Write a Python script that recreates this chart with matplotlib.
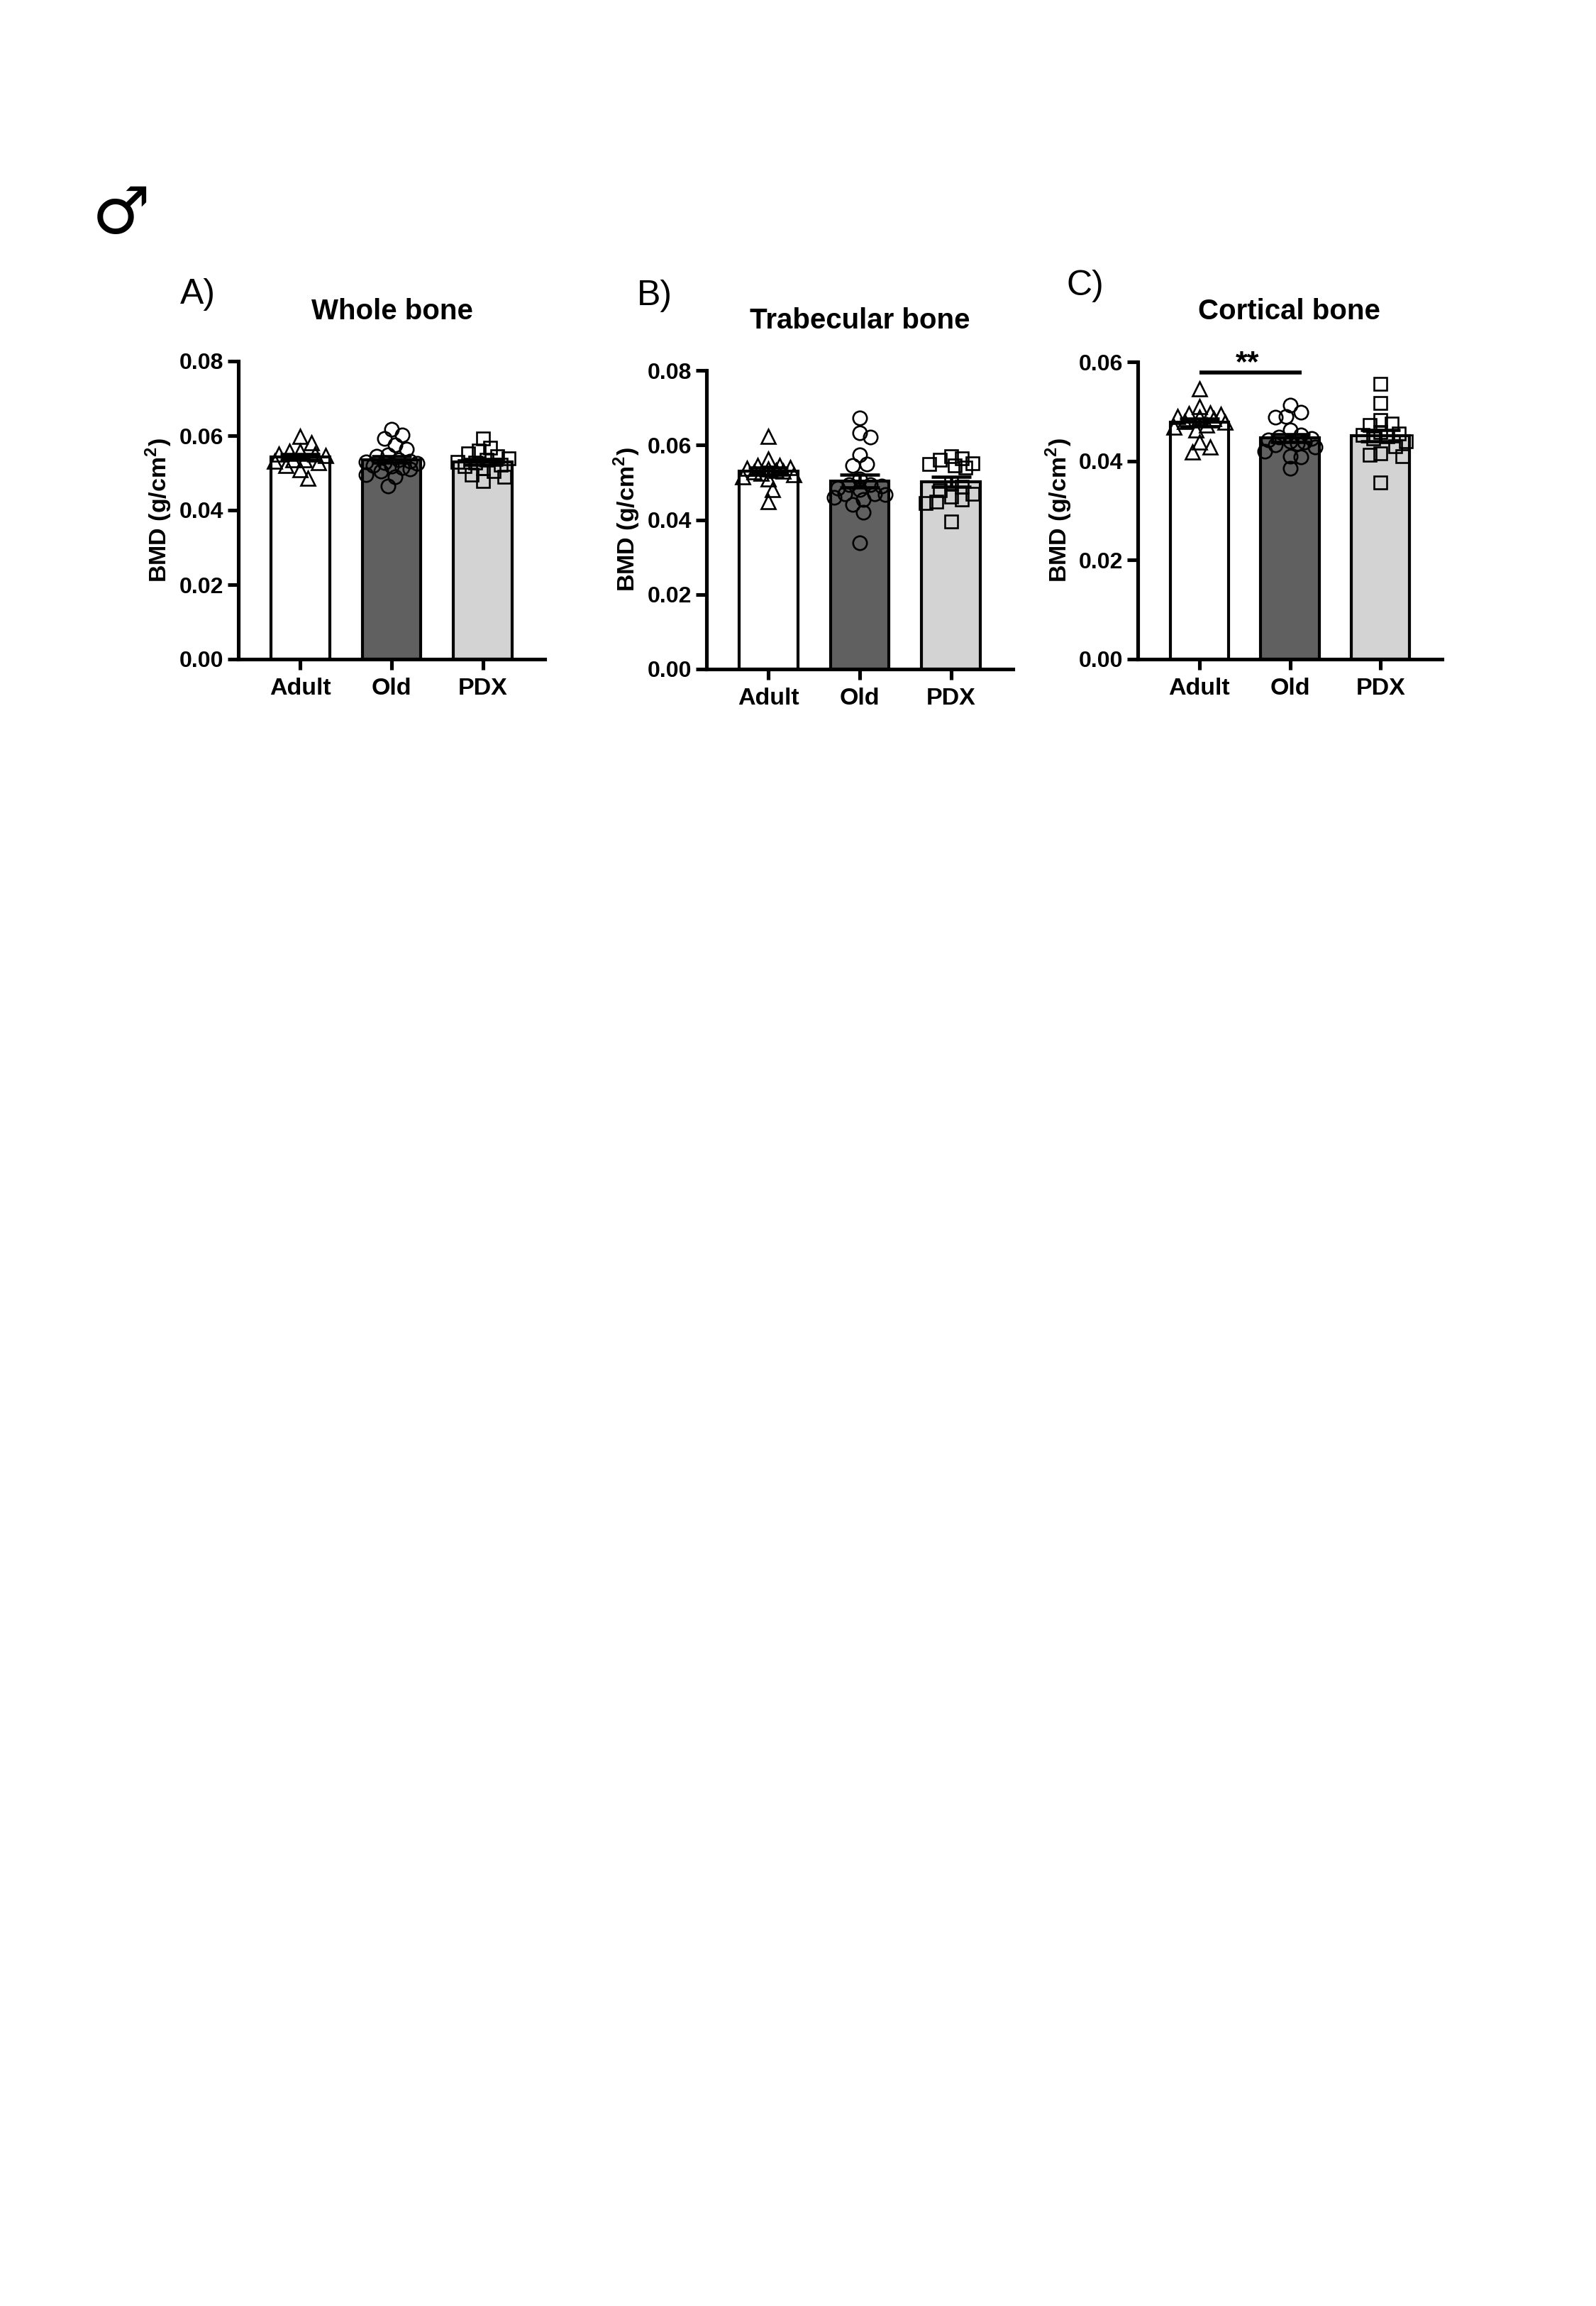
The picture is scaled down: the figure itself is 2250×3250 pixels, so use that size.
import matplotlib
matplotlib.use("Agg")
import matplotlib.pyplot as plt
import numpy as np

# ---- data (BMD, g/cm2) ----
groups = ["Adult", "Old", "PDX"]

whole_adult = [0.0598, 0.0581, 0.0559, 0.0559, 0.0547, 0.0551, 0.0551, 0.0535,
               0.0532, 0.0535, 0.0520, 0.0508, 0.0528, 0.0485]
whole_old = [0.0617, 0.0601, 0.0592, 0.0576, 0.0563, 0.0545, 0.0548, 0.0535,
             0.0532, 0.0530, 0.0528, 0.0525, 0.0520, 0.0518, 0.0515, 0.0510,
             0.0505, 0.0495, 0.0490, 0.0465]
whole_pdx = [0.0592, 0.0568, 0.0560, 0.0552, 0.0545, 0.0540, 0.0535, 0.0530,
             0.0528, 0.0522, 0.0518, 0.0512, 0.0505, 0.0495, 0.0490, 0.0478]

trab_adult = [0.0624, 0.0562, 0.0546, 0.0545, 0.0540, 0.0538, 0.0535, 0.0532,
              0.0530, 0.0528, 0.0525, 0.0520, 0.0515, 0.0510, 0.0480, 0.0449]
trab_old = [0.0673, 0.0633, 0.0621, 0.0573, 0.0550, 0.0545, 0.0510, 0.0495,
            0.0495, 0.0490, 0.0485, 0.0480, 0.0470, 0.0470, 0.0468, 0.0460,
            0.0455, 0.0440, 0.0420, 0.0338]
trab_pdx = [0.0570, 0.0565, 0.0560, 0.0552, 0.0550, 0.0545, 0.0540, 0.0498,
            0.0488, 0.0478, 0.0470, 0.0462, 0.0455, 0.0448, 0.0445, 0.0395]

cort_adult = [0.0545, 0.0510, 0.0497, 0.0496, 0.0494, 0.0490, 0.0488, 0.0485,
              0.0480, 0.0478, 0.0472, 0.0468, 0.0462, 0.0438, 0.0428, 0.0418]
cort_old = [0.0512, 0.0498, 0.0490, 0.0488, 0.0462, 0.0452, 0.0448, 0.0445,
            0.0442, 0.0440, 0.0438, 0.0435, 0.0432, 0.0428, 0.0420, 0.0410,
            0.0408, 0.0385]
cort_pdx = [0.0555, 0.0517, 0.0482, 0.0475, 0.0472, 0.0458, 0.0455, 0.0452,
            0.0450, 0.0446, 0.0440, 0.0430, 0.0415, 0.0412, 0.0410, 0.0356]

bar_colors = ["#ffffff", "#606060", "#d3d3d3"]
markers = ["^", "o", "s"]

W, H = 2250, 3250
plt.rcParams["font.family"] = ["Liberation Sans", "DejaVu Sans"]
plt.rcParams["font.weight"] = "bold"
plt.rcParams["mathtext.fontset"] = "custom"
plt.rcParams["mathtext.rm"] = "Liberation Sans:bold"
plt.rcParams["mathtext.bf"] = "Liberation Sans:bold"

fig = plt.figure(figsize=(W / 100, H / 100), dpi=100)


def fx(px):
    return px / W


def fy(py):
    return 1 - py / H


def swarm(values, center, dx, dy, half_width=0.31):
    """Spread points sideways so they overlap less (deterministic beeswarm)."""
    values = np.asarray(values)
    xs = np.zeros(len(values))
    placed = []
    step = dx / 3
    offs = [0.0]
    k = 1
    while k * step <= half_width:
        offs += [k * step, -k * step]
        k += 1
    for i in np.argsort(values)[::-1]:
        y = values[i]
        best, best_d = 0.0, -1
        for o in offs:
            d = min([np.hypot((o - px) / dx, (y - py) / dy) for px, py in placed] or [9])
            if d >= 1:
                best = o
                break
            if d > best_d:
                best, best_d = o, d
        xs[i] = center + best
        placed.append((best, y))
    return xs


def panel(rect, data, ymax, title, letter, title_xy, letter_xy):
    ax = fig.add_axes(rect)
    means = [np.mean(d) for d in data]
    sems = [np.std(d, ddof=1) / np.sqrt(len(d)) for d in data]
    x = np.arange(len(groups))
    ax.bar(x, means, width=0.645, color=bar_colors, edgecolor="black",
           linewidth=3.0, zorder=1)
    dy = 0.85 * 19 / 420 * ymax
    for i, d in enumerate(data):
        xs = swarm(d, i, 0.12, dy)
        ax.plot(xs, d, linestyle="none", marker=markers[i],
                markersize=14 if i < 2 else 12.5, markerfacecolor="none",
                markeredgecolor="black", markeredgewidth=1.9, zorder=3)
    ax.errorbar(x, means, yerr=sems, fmt="none", ecolor="black",
                elinewidth=3.3, capsize=20, capthick=3.3, zorder=4)

    ax.set_xlim(-0.68, 2.68)
    ax.set_ylim(0, ymax)
    ax.set_yticks(np.arange(0, ymax + 1e-9, 0.02))
    ax.set_yticklabels([f"{v:.2f}" for v in np.arange(0, ymax + 1e-9, 0.02)])
    ax.set_xticks(x)
    ax.set_xticklabels(groups)
    for s in ["top", "right"]:
        ax.spines[s].set_visible(False)
    for s in ["left", "bottom"]:
        ax.spines[s].set_linewidth(3.7)
    ax.tick_params(axis="both", direction="out", length=11, width=3.7)
    ax.tick_params(axis="y", pad=4, labelsize=23)
    ax.tick_params(axis="x", pad=8, labelsize=24.5)
    ax.set_ylabel(r"BMD (g/cm$^{\mathbf{2}}$)", fontsize=24.5, fontweight="bold")
    ax.yaxis.set_label_coords(-0.21, 0.5)

    fig.text(fx(title_xy[0]), fy(title_xy[1]), title, fontsize=29,
             fontweight="bold", ha="center", va="center")
    fig.text(fx(letter_xy[0]), fy(letter_xy[1]), letter, fontsize=36,
             fontweight="normal", ha="left", va="center")
    return ax


ax_a = panel([fx(336), fy(929), fx(432), 420 / H],
             [whole_adult, whole_old, whole_pdx], 0.08,
             "Whole bone", "A)", (553, 439), (254, 415))
ax_b = panel([fx(996), fy(943), fx(432), 421 / H],
             [trab_adult, trab_old, trab_pdx], 0.08,
             "Trabecular bone", "B)", (1212, 452), (898, 417))
ax_c = panel([fx(1604), fy(929), fx(429), 419 / H],
             [cort_adult, cort_old, cort_pdx], 0.06,
             "Cortical bone", "C)", (1817, 439), (1504, 403))

# Adult vs Old, cortical bone
ax_c.plot([0, 1.13], [0.0579, 0.0579], color="black", linewidth=4,
          solid_capstyle="butt", clip_on=False, zorder=5)
ax_c.text(0.53, 0.0581, "**", fontsize=31, fontweight="bold",
          ha="center", va="baseline")

# male symbol
fig.text(fx(171), fy(303), "♂", fontsize=66, fontweight="bold",
         ha="center", va="center", family=["DejaVu Sans"])

fig.savefig("out.png", dpi=100, facecolor="white")
